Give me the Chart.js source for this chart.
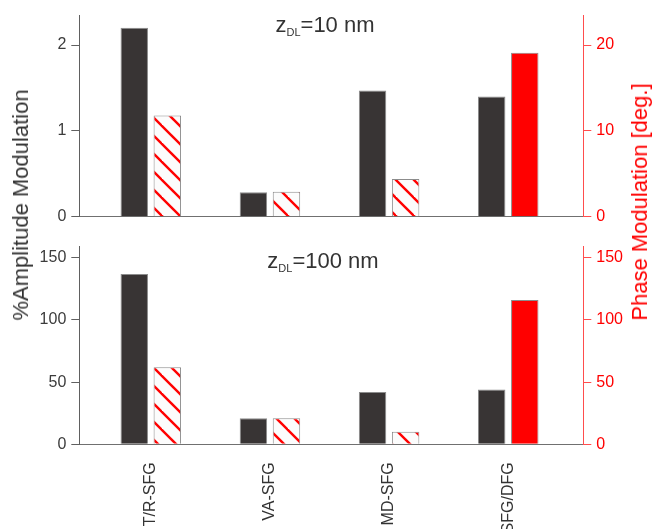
<!DOCTYPE html>
<html>
<head>
<meta charset="utf-8">
<script src="https://cdn.jsdelivr.net/npm/chart.js@4.4.1/dist/chart.umd.min.js"></script>
<style>
  html, body { margin: 0; padding: 0; background: #fff; }
  #wrap { position: relative; width: 654px; height: 529px; overflow: hidden;
          font-family: "Liberation Sans", Arial, sans-serif; }
  #wrap canvas { position: absolute; left: 0; }
  .ytitle { position: absolute; font-size: 22px; line-height: 22px; white-space: nowrap;
            transform: translate(-50%, -50%) rotate(-90deg); }
</style>
</head>
<body>
<div id="wrap">
  <canvas id="panelTop" width="654" height="232" style="top:0"></canvas>
  <canvas id="panelBottom" width="654" height="297" style="top:232px"></canvas>
  <div class="ytitle" style="left:21px; top:205px; color:#333;">%Amplitude Modulation</div>
  <div class="ytitle" style="left:640px; top:202px; color:#ff0000;">Phase Modulation [deg.]</div>
</div>
<script>
// Methods compared in both panels
const categories = ['T/R-SFG', 'VA-SFG', 'MD-SFG', 'SFG/DFG'];
// Layer depths (nm) of the two panels
const depths = [10, 100];
// z_DL = 10 nm
const amplitude10 = [2.2, 0.285, 1.47, 1.4];
const phase10 = [11.8, 2.9, 4.4, 19.1];
// z_DL = 100 nm
const amplitude100 = [137, 21, 42, 44];
const phase100 = [62, 21, 10, 116];
// tick values of each axis
const ampTicks10 = [0, 1, 2];
const phaseTicks10 = [0, 10, 20];
const ampTicks100 = [0, 50, 100, 150];
const phaseTicks100 = [0, 50, 100, 150];
// method whose phase bar is drawn solid
const solidCategory = 'SFG/DFG';

const FONT = '"Liberation Sans", Arial, sans-serif';

// red diagonal hatching for phase bars
function makeHatch() {
  const s = 18;
  const c = document.createElement('canvas');
  c.width = s; c.height = s;
  const g = c.getContext('2d');
  g.fillStyle = '#fcfcfc';
  g.fillRect(0, 0, s, s);
  g.strokeStyle = '#ff0000';
  g.lineWidth = 2.4;
  for (let k = -1; k <= 1; k++) {
    g.beginPath();
    g.moveTo(-2, k * s - 2);
    g.lineTo(s + 2, s + k * s + 2);
    g.stroke();
  }
  return g.createPattern(c, 'repeat');
}
const hatch = makeHatch();

// "z_DL=... nm" heading inside each panel
const panelTitle = {
  id: 'panelTitle',
  afterDraw(chart, args, o) {
    const ctx = chart.ctx;
    ctx.save();
    const big = '22px ' + FONT, small = '11px ' + FONT;
    const rest = '=' + o.depth + ' nm';
    ctx.font = big;
    const wz = ctx.measureText('z').width, wr = ctx.measureText(rest).width;
    ctx.font = small;
    const ws = ctx.measureText('DL').width;
    let x = o.cx - (wz + ws + wr) / 2;
    ctx.fillStyle = '#333';
    ctx.textAlign = 'left';
    ctx.textBaseline = 'alphabetic';
    ctx.font = big; ctx.fillText('z', x, o.y); x += wz;
    ctx.font = small; ctx.fillText('DL', x, o.y + 4); x += ws;
    ctx.font = big; ctx.fillText(rest, x, o.y);
    ctx.restore();
  }
};

function fixedTicks(values) {
  return (ax) => { ax.ticks = values.map(v => ({ value: v })); };
}

function makePanel(id, amp, phase, cfg) {
  const barStyle = { categoryPercentage: 0.555, barPercentage: 0.83, borderWidth: 1, borderColor: '#8c8c8c' };
  return new Chart(document.getElementById(id), {
    type: 'bar',
    data: {
      datasets: [
        Object.assign({
          label: '%Amplitude Modulation',
          data: amp.map((v, i) => ({ x: i, y: v })),
          yAxisID: 'y',
          backgroundColor: '#383434'
        }, barStyle),
        Object.assign({
          label: 'Phase Modulation [deg.]',
          data: phase.map((v, i) => ({ x: i, y: v })),
          yAxisID: 'y2',
          backgroundColor: categories.map(c => c === solidCategory ? '#ff0000' : hatch)
        }, barStyle)
      ]
    },
    options: {
      responsive: false,
      animation: false,
      devicePixelRatio: 1,
      layout: { padding: { top: cfg.padTop, left: 0, right: 0, bottom: 0 } },
      plugins: {
        legend: { display: false },
        tooltip: { enabled: false },
        panelTitle: { depth: cfg.depth, cx: cfg.titleX, y: cfg.titleY }
      },
      scales: {
        x: {
          type: 'linear',
          offset: false,
          min: -0.6,
          max: 3.63,
          grid: { display: false, offset: false },
          border: { display: true, color: '#707070', width: 1 },
          afterBuildTicks: fixedTicks(categories.map((_, i) => i)),
          ticks: {
            display: cfg.showLabels,
            autoSkip: false,
            minRotation: 90,
            maxRotation: 90,
            padding: 10,
            color: '#333',
            font: { family: FONT, size: 16 },
            callback: (v) => categories[Math.round(v)] || ''
          },
          afterFit: (s) => { s.height = cfg.xHeight; }
        },
        y: {
          position: 'left',
          min: 0,
          max: cfg.ampMax,
          ticks: { padding: 5, color: '#3c3c3c', font: { family: FONT, size: 16 } },
          afterBuildTicks: fixedTicks(cfg.ampTicks),
          grid: { drawOnChartArea: false, drawTicks: true, tickLength: 8, color: '#606060' },
          border: { display: true, color: '#606060', width: 1 },
          afterFit: (s) => { s.width = 79.3; }
        },
        y2: {
          position: 'right',
          min: 0,
          max: cfg.phaseMax,
          ticks: { padding: 5, color: '#ff0000', font: { family: FONT, size: 16 } },
          afterBuildTicks: fixedTicks(cfg.phaseTicks),
          grid: { drawOnChartArea: false, drawTicks: true, tickLength: 8, color: '#ff4d4d' },
          border: { display: true, color: '#ff4d4d', width: 1 },
          afterFit: (s) => { s.width = 70.7; }
        }
      }
    },
    plugins: [panelTitle]
  });
}

makePanel('panelTop', amplitude10, phase10, {
  depth: depths[0], padTop: 15, xHeight: 15.3, showLabels: false,
  ampMax: 2.35, ampTicks: ampTicks10, phaseMax: 23.5, phaseTicks: phaseTicks10,
  titleX: 325, titleY: 31.7
});

makePanel('panelBottom', amplitude100, phase100, {
  depth: depths[1], padTop: 11.3, xHeight: 84.7, showLabels: true,
  ampMax: 159, ampTicks: ampTicks100, phaseMax: 159, phaseTicks: phaseTicks100,
  titleX: 323, titleY: 36.3
});
</script>
</body>
</html>
